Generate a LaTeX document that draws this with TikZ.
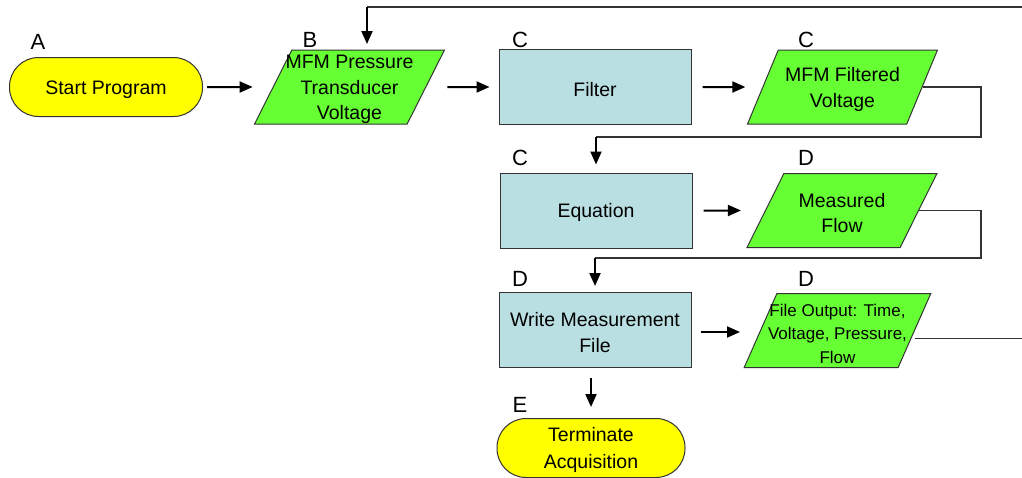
\documentclass[tikz,border=0pt]{standalone}
\usepackage{fontspec}
\setmainfont{Liberation Sans}
\usetikzlibrary{arrows.meta,shapes.geometric}

\definecolor{termyellow}{HTML}{FFFF00}
\definecolor{iogreen}{HTML}{66FF33}
\definecolor{procblue}{HTML}{BADFE2}
\definecolor{edgegray}{HTML}{333333}

%% a tall strut on the first line pushes the text a little down
\newcommand\zlift{\rule{0pt}{19pt}}

\tikzset{zterm/.style={
  draw=edgegray,
  fill=termyellow,
  rectangle,
  rounded corners=29pt,
  line width=1pt,
  inner sep=0pt,
  minimum width=188pt,
  minimum height=59pt,
  align=center,
  execute at begin node=\zlift,
  font=\fontsize{19.5}{27}\selectfont}}
\tikzset{zio/.style={
  draw=edgegray,
  fill=iogreen,
  trapezium,
  trapezium left angle=65,
  trapezium right angle=115,
  trapezium stretches=true,
  line width=1pt,
  inner xsep=-12pt,
  inner ysep=-1pt,
  minimum width=190pt,
  minimum height=74pt,
  align=center,
  font=\fontsize{19.5}{25.5}\selectfont}}
\tikzset{zproc/.style={
  draw=edgegray,
  fill=procblue,
  rectangle,
  line width=1pt,
  inner sep=0pt,
  minimum width=192pt,
  minimum height=75pt,
  align=center,
  execute at begin node=\zlift,
  font=\fontsize{19.5}{26}\selectfont}}
\tikzset{zlab/.style={
  inner sep=0pt,
  font=\fontsize{22}{22}\selectfont}}

\begin{document}
\begin{tikzpicture}[
  x=1pt,y=-1pt,
  zarrow/.style={
    line width=2pt,
    -{Triangle[length=13pt,width=11pt]}},
  zloop/.style={
    draw=edgegray,
    line width=1.2pt}
]
  \useasboundingbox (0,0) rectangle (1022,477);

  %%%% Left column and top row %%%%
  \node[zterm,minimum width=193pt] (start) at (106,87) {Start Program};
  \node[zio] (press) at (349.5,87) {\zlift MFM Pressure\\Transducer\\Voltage};
  \node[zproc] (filter) at (595,87) {Filter};
  \node[zio] (filtv) at (842.5,87) {\zlift MFM Filtered\\Voltage};

  %%%% Middle rows %%%%
  \node[zproc] (equ) at (596,210.5) {Equation};
  \node[zio] (flow) at (842,210.5) {\zlift Measured\\Flow};
  \node[zproc] (write) at (595,330) {\zlift Write Measurement\\File};
  \node[zio,inner xsep=-14pt,minimum width=187pt,
    font=\fontsize{17}{23.5}\selectfont] (fout) at (837.5,330.5)
    {\zlift File Output: Time,\\Voltage, Pressure,\\Flow};
  \node[zterm] (term) at (591,448) {\zlift Terminate\\Acquisition};

  %% Step letters above the boxes
  \node[zlab] (labA) at (38,42) {A};
  \node[zlab] (labB) at (310,40) {B};
  \node[zlab] (labC1) at (520,40) {C};
  \node[zlab] (labC2) at (806,40) {C};
  \node[zlab] (labC3) at (520,158) {C};
  \node[zlab] (labD1) at (806,158) {D};
  \node[zlab] (labD2) at (520,279) {D};
  \node[zlab] (labD3) at (806,279) {D};
  \node[zlab] (labE) at (520,405) {E};

  %% Short arrows between boxes
  \draw[zarrow] ([xshift=4pt]start.east) -- ([xshift=-20pt]press.west);
  \draw[zarrow] ([xshift=21pt]press.east) -- ([xshift=-9pt]filter.west);
  \draw[zarrow] ([xshift=11pt]filter.east) -- ([xshift=-17pt]filtv.west);
  \draw[zarrow] ([xshift=11pt]equ.east) -- ([xshift=-24pt]flow.west);
  \draw[zarrow] ([xshift=9pt,yshift=-2pt]write.east)
    -- ([xshift=-20pt,yshift=-2pt]write.east -| fout.west);
  \draw[zarrow] ([yshift=-10pt]term.north |- write.south)
    -- ([yshift=11pt]term.north);

  %% Return lines
  \coordinate (turn1) at (981,137);
  \coordinate (turn2) at (981,258);
  \coordinate (turn3) at (1025,7);
  \draw[zloop] (filtv.east) -| (turn1) -- (turn1 -| equ.north);
  \draw[zarrow] (turn1 -| equ.north) -- ([yshift=8pt]equ.north);
  \draw[zloop] (flow.east) -| (turn2) -- (turn2 -| write.north);
  \draw[zarrow] (turn2 -| write.north) -- ([yshift=6pt]write.north);
  \draw[zloop] ([yshift=-8pt]fout.east) -| (turn3) -- (367,7);
  \draw[zarrow] (367,7) -- (367,44);

\end{tikzpicture}
\end{document}
